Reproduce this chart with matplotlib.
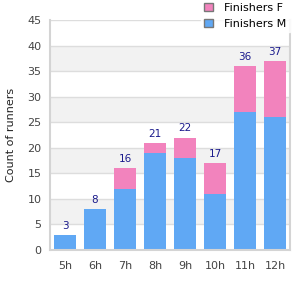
import matplotlib.pyplot as plt
from matplotlib.patches import Patch

hours = ["5h", "6h", "7h", "8h", "9h", "10h", "11h", "12h"]
finishers_m = [3, 8, 12, 19, 18, 11, 27, 26]
finishers_f = [0, 0, 4, 2, 4, 6, 9, 11]
totals = [m + f for m, f in zip(finishers_m, finishers_f)]

blue = "#60a8f4"
pink = "#f283bd"
tick_color = "#444444"
label_color = "#1a1a8c"


def main():
    fig = plt.figure(figsize=(3, 3), dpi=100)
    ax = fig.add_axes([50 / 300, 50 / 300, 240 / 300, 230 / 300])

    # alternating background bands
    for lo in range(5, 45, 10):
        ax.axhspan(lo, lo + 5, color="#f2f2f2", zorder=0, lw=0)
    for y in range(5, 50, 5):
        ax.axhline(y, color="#dddddd", lw=1, zorder=1)

    x = list(range(len(hours)))
    ax.bar(x, finishers_m, width=0.73, color=blue, zorder=2)
    ax.bar(x, finishers_f, width=0.73, bottom=finishers_m, color=pink, zorder=2)

    for i, t in enumerate(totals):
        ax.text(i, t + 0.8, str(t), ha="center", va="bottom",
                fontsize=7.5, color=label_color)

    ax.set_xlim(-0.5, len(hours) - 0.5)
    ax.set_ylim(0, 45)
    ax.set_yticks(range(0, 50, 5))
    ax.set_xticks(x)
    ax.set_xticklabels(hours)
    ax.tick_params(length=0, labelsize=8, colors=tick_color, pad=6)
    ax.tick_params(axis="x", pad=8)
    ax.set_ylabel("Count of runners", fontsize=8, color="#222222", labelpad=8)

    ax.spines["top"].set_visible(False)
    for side in ["left", "right", "bottom"]:
        ax.spines[side].set_color("#d4d4d4")
        ax.spines[side].set_linewidth(1.5)

    handles = [
        Patch(facecolor=pink, edgecolor="#777777", label="Finishers F"),
        Patch(facecolor=blue, edgecolor="#777777", label="Finishers M"),
    ]
    leg = fig.legend(handles=handles, loc="upper right",
                     bbox_to_anchor=(0.985, 1.02), fontsize=8, frameon=True,
                     handlelength=0.8, handleheight=0.8, handletextpad=1.0,
                     borderpad=0.3, labelspacing=0.5, fancybox=False)
    leg.get_frame().set_edgecolor("white")
    leg.get_frame().set_facecolor("white")
    leg.set_zorder(5)

    fig.savefig("out.png", dpi=100)


if __name__ == "__main__":
    main()
